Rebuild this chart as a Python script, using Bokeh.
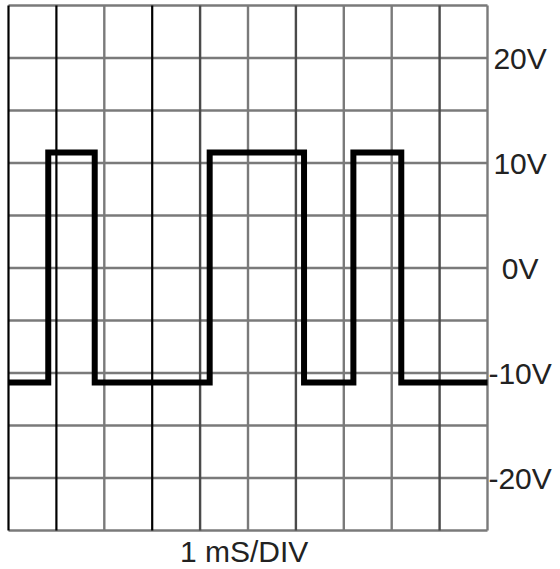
from bokeh.plotting import figure
from bokeh.models import Range1d, ColumnDataSource
from bokeh.core.properties import value
from bokeh.embed import file_html
from bokeh.resources import INLINE

# --- data -------------------------------------------------------------
# time in ms (1 mS/DIV), voltage in V (5 V per division)
wave_t = [0.0, 0.83, 0.83, 1.80, 1.80, 4.20, 4.20, 6.17, 6.17, 7.20, 7.20, 8.20, 8.20, 10.0]
wave_v = [-10.9, -10.9, 11.0, 11.0, -10.9, -10.9, 11.0, 11.0, -10.9, -10.9, 11.0, 11.0, -10.9, -10.9]

grid_dark_t = [0, 1, 3]
grid_mid_t = [4, 6, 9]
grid_light_t = [2, 5, 7, 8, 10]
grid_v = [25, 20, 15, 10, 5, 0, -5, -10, -15, -20, -25]

tick_v = [20, 10, 0, -10, -20]
tick_labels = ["20V", "10V", "0V", "-10V", "-20V"]
x_title = "1 mS/DIV"

T_MIN, T_MAX = 0, 10
V_MIN, V_MAX = -25, 25

# --- figure -----------------------------------------------------------
PX_T = 47.9
PX_V = 10.5
W, H = 560, 569
x0 = -8 / PX_T
y1 = V_MAX + 5 / PX_V
p = figure(width=W, height=H, output_backend="svg", toolbar_location=None,
           x_range=Range1d(x0, x0 + W / PX_T), y_range=Range1d(y1 - H / PX_V, y1),
           min_border=0)
p.axis.visible = False
p.grid.visible = False
p.outline_line_color = None
p.background_fill_color = "white"
p.border_fill_color = "white"

# horizontal grid lines
p.segment(x0=[T_MIN] * len(grid_v), x1=[T_MAX] * len(grid_v), y0=grid_v, y1=grid_v,
          line_color="#7a7a7a", line_width=2.6)
# vertical grid lines
p.segment(x0=grid_light_t, x1=grid_light_t, y0=[V_MIN] * len(grid_light_t), y1=[V_MAX] * len(grid_light_t),
          line_color="#7a7a7a", line_width=2.4)
p.segment(x0=grid_mid_t, x1=grid_mid_t, y0=[V_MIN] * len(grid_mid_t), y1=[V_MAX] * len(grid_mid_t),
          line_color="#4a4a4a", line_width=2.4)
p.segment(x0=grid_dark_t, x1=grid_dark_t, y0=[V_MIN] * len(grid_dark_t), y1=[V_MAX] * len(grid_dark_t),
          line_color="#000000", line_width=2.2)

# waveform
p.line(wave_t, wave_v, line_color="black", line_width=6, line_join="miter")

# voltage labels (right side)
lab_src = ColumnDataSource(dict(x=[10.68] * len(tick_v), y=tick_v, t=tick_labels))
p.text(x="x", y="y", text="t", source=lab_src, text_align="center", text_baseline="middle",
       text_font=value("Liberation Sans"), text_font_size="30px", text_color="#222222")

# time-base label
p.text(x=[4.92], y=[-28.6], text=[x_title], text_align="center", text_baseline="bottom",
       text_font=value("Liberation Sans"), text_font_size="30px", text_color="#222222")

open("out.html", "w").write(file_html(p, INLINE))
